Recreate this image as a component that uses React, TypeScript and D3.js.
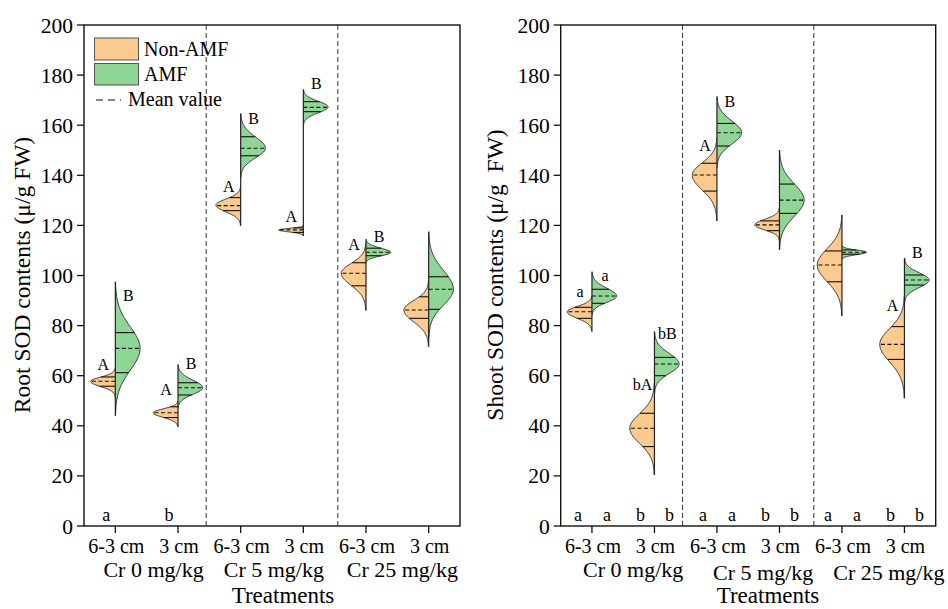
import React from "react";
import * as d3 from "d3";

type Stat = { lo: number; peak: number; hi: number; q1: number; mean: number; q3: number };
const st = (lo: number, peak: number, hi: number, q1: number, mean: number, q3: number): Stat => ({ lo, peak, hi, q1, mean, q3 });

// categories / groups / ticks
const CATEGORIES = ["6-3 cm", "3 cm", "6-3 cm", "3 cm", "6-3 cm", "3 cm"];
const GROUPS = ["Cr 0 mg/kg", "Cr 5 mg/kg", "Cr 25 mg/kg"];
const Y_TICKS = [0, 20, 40, 60, 80, 100, 120, 140, 160, 180, 200];

// Root SOD (μ/g FW): distribution summaries [range low, density peak, range high, q1, mean, q3]
const ROOT_NON_AMF: Stat[] = [
  st(51.5, 57.7, 63, 55.8, 57.8, 59.5),
  st(39.5, 45.2, 50, 43.3, 45.2, 47.6),
  st(119.9, 128.1, 135.5, 125.9, 127.9, 131.1),
  st(115.8, 118.2, 120, 117.2, 118.2, 119),
  st(86, 100.9, 113, 95.9, 100.9, 105.1),
  st(71.6, 86.2, 98, 82.9, 86.2, 91.5),
];
const ROOT_AMF: Stat[] = [
  st(44, 70.9, 97.5, 61.2, 70.9, 77.2),
  st(47, 55.2, 64.5, 52.3, 55.2, 57.2),
  st(139, 150.8, 164.7, 147.8, 150.8, 155.4),
  st(160, 167.3, 174.3, 165.4, 167.1, 169.4),
  st(105, 109.2, 114.5, 107.9, 109.3, 110.9),
  st(75, 94.5, 117.5, 86.5, 94.5, 99.5),
];

// Shoot SOD (μ/g FW)
const SHOOT_NON_AMF: Stat[] = [
  st(77.6, 85.5, 92, 82.9, 85.5, 87.3),
  st(20.4, 39, 57, 31.7, 39, 45),
  st(121.8, 140.1, 155, 133.7, 140.1, 144.8),
  st(114, 120.2, 127, 117.9, 120.2, 121.8),
  st(83.8, 104.2, 124.2, 97.5, 104.2, 109.8),
  st(51, 72.5, 92, 66.5, 72.5, 79.6),
];
const SHOOT_AMF: Stat[] = [
  st(84, 91.8, 101.5, 88.9, 91.8, 94.5),
  st(53, 64.7, 77.6, 60, 64.7, 67.3),
  st(143, 157, 171.5, 151.7, 157, 160.7),
  st(110.2, 130.1, 150.1, 124.8, 130.1, 136.5),
  st(106.3, 109.3, 112, 108.5, 109.3, 110.2),
  st(89, 98.2, 107, 96.2, 98.2, 100.2),
];

// significance letters above violins (text, value at baseline)
const ROOT_NON_LETTERS = ["A", "A", "A", "A", "A", ""];
const ROOT_NON_LETTER_AT = [62.1, 52.1, 133.5, 121.4, 110, 0];
const ROOT_AMF_LETTERS = ["B", "B", "B", "B", "B", ""];
const ROOT_AMF_LETTER_AT = [90, 62.5, 160.3, 174.5, 113.4, 0];
const SHOOT_NON_LETTERS = ["a", "bA", "A", "", "", "A"];
const SHOOT_NON_LETTER_AT = [91.4, 54.1, 149.9, 0, 0, 86];
const SHOOT_AMF_LETTERS = ["a", "bB", "B", "", "", "B"];
const SHOOT_AMF_LETTER_AT = [98, 74.7, 167.2, 0, 0, 106.9];

// letters at the bottom
const ROOT_BASE_LETTERS = ["a", "b", "", "", "", ""];
const SHOOT_BASE_NON = ["a", "b", "a", "b", "a", "b"];
const SHOOT_BASE_AMF = ["a", "b", "a", "b", "a", "b"];

const ORANGE = "#FCC98E";
const GREEN = "#8FD595";
const FONT = "'Liberation Serif', 'Times New Roman', serif";

const Y_TOP = 25;
const Y_BOT = 526;

function density(s: Stat, v: number, W: number) {
  const sd = v >= s.peak ? (s.hi - s.peak) / 3.1 : (s.peak - s.lo) / 3.1;
  const z = (v - s.peak) / Math.max(sd, 0.01);
  return W * Math.exp(-0.5 * z * z);
}

type PanelProps = {
  x0: number;
  x1: number;
  non: Stat[];
  amf: Stat[];
  nonLetters: string[];
  nonLetterAt: number[];
  amfLetters: string[];
  amfLetterAt: number[];
  baseLeft: string[];
  baseRight: string[];
  baseOffsets: [number, number];
  title: string;
  titleX: number;
  groupPos: number[];
  groupY: number[];
  treatX: number;
  legend: boolean;
};

function HalfViolin({ s, cx, y, W, dir, fill }: { s: Stat; cx: number; y: d3.ScaleLinear<number, number>; W: number; dir: number; fill: string }) {
  const vs = d3.range(0, 121).map((i) => s.lo + ((s.hi - s.lo) * i) / 120);
  const pts: [number, number][] = vs.map((v) => [cx + dir * density(s, v, W), y(v)]);
  const curve = d3.line()(pts) || "";
  const area = `M${cx},${y(s.lo)}L` + pts.map((p) => p.join(",")).join("L") + `L${cx},${y(s.hi)}Z`;
  const seg = (v: number) => [cx, cx + dir * density(s, v, W)];
  const [a1, b1] = seg(s.q1);
  const [a3, b3] = seg(s.q3);
  const [am, bm] = seg(s.mean);
  return (
    <g>
      <path d={area} fill={fill} stroke="none" />
      <path d={curve} fill="none" stroke="#222" strokeWidth={0.9} />
      <line x1={a1} x2={b1} y1={y(s.q1)} y2={y(s.q1)} stroke="#111" strokeWidth={1.1} />
      <line x1={a3} x2={b3} y1={y(s.q3)} y2={y(s.q3)} stroke="#111" strokeWidth={1.1} />
      <line x1={am} x2={bm} y1={y(s.mean)} y2={y(s.mean)} stroke="#111" strokeWidth={1.1} strokeDasharray="4,2.5" />
    </g>
  );
}

function Panel(p: PanelProps) {
  const x = d3.scaleLinear().domain([0.5, 6.5]).range([p.x0, p.x1]);
  const y = d3.scaleLinear().domain([0, 200]).range([Y_BOT, Y_TOP]);
  const band = (p.x1 - p.x0) / 6;
  const W = band * 0.395;
  return (
    <g fontFamily={FONT} fill="#000">
      {/* separators */}
      {[2.45, 4.55].map((v) => (
        <line key={v} x1={x(v)} x2={x(v)} y1={Y_TOP} y2={Y_BOT} stroke="#333" strokeWidth={1} strokeDasharray="5,3" />
      ))}
      {/* violins */}
      {CATEGORIES.map((_, i) => {
        const cx = x(i + 1);
        const lo = Math.min(p.non[i].lo, p.amf[i].lo);
        const hi = Math.max(p.non[i].hi, p.amf[i].hi);
        return (
          <g key={i}>
            <HalfViolin s={p.non[i]} cx={cx} y={y} W={W} dir={-1} fill={ORANGE} />
            <HalfViolin s={p.amf[i]} cx={cx} y={y} W={W} dir={1} fill={GREEN} />
            <line x1={cx} x2={cx} y1={y(lo)} y2={y(hi)} stroke="#222" strokeWidth={1.2} />
            {p.nonLetters[i] && (
              <text x={cx - 12} y={y(p.nonLetterAt[i])} fontSize={16} textAnchor="middle">{p.nonLetters[i]}</text>
            )}
            {p.amfLetters[i] && (
              <text x={cx + 13} y={y(p.amfLetterAt[i])} fontSize={16} textAnchor="middle">{p.amfLetters[i]}</text>
            )}
            {p.baseLeft[i] && (
              <text x={cx + p.baseOffsets[0]} y={521} fontSize={18} textAnchor="middle">{p.baseLeft[i]}</text>
            )}
            {p.baseRight[i] && (
              <text x={cx + p.baseOffsets[1]} y={521} fontSize={18} textAnchor="middle">{p.baseRight[i]}</text>
            )}
          </g>
        );
      })}
      {/* frame */}
      <rect x={p.x0} y={Y_TOP} width={p.x1 - p.x0} height={Y_BOT - Y_TOP} fill="none" stroke="#111" strokeWidth={1.4} />
      {/* y ticks */}
      {Y_TICKS.map((t) => (
        <g key={t}>
          <line x1={p.x0 - 7} x2={p.x0} y1={y(t)} y2={y(t)} stroke="#111" strokeWidth={1.3} />
          <text x={p.x0 - 11} y={y(t)} dy="0.35em" fontSize={21.5} textAnchor="end">{t}</text>
        </g>
      ))}
      {/* x ticks */}
      {CATEGORIES.map((c, i) => (
        <g key={i}>
          <line x1={x(i + 1)} x2={x(i + 1)} y1={Y_BOT} y2={Y_BOT + 7} stroke="#111" strokeWidth={1.3} />
          <text x={x(i + 1) + 1} y={553} fontSize={20} textAnchor="middle">{c}</text>
        </g>
      ))}
      {GROUPS.map((g, i) => (
        <text key={g} x={x(p.groupPos[i])} y={p.groupY[i]} fontSize={22} textAnchor="middle">{g}</text>
      ))}
      <text x={p.treatX} y={603} fontSize={23} textAnchor="middle">Treatments</text>
      <text
        transform={`translate(${p.titleX},275) rotate(-90)`}
        fontSize={23.5}
        textAnchor="middle"
        style={{ whiteSpace: "pre" }}
      >
        {p.title}
      </text>
      {p.legend && (
        <g>
          <rect x={94.5} y={38} width={44} height={22} fill={ORANGE} stroke="#555" strokeWidth={1} />
          <rect x={94.5} y={63.5} width={44} height={21.5} fill={GREEN} stroke="#555" strokeWidth={1} />
          <text x={144} y={55.5} fontSize={20}>Non-AMF</text>
          <text x={144} y={80.5} fontSize={20}>AMF</text>
          <line x1={96} x2={121} y1={100} y2={100} stroke="#111" strokeWidth={1.2} strokeDasharray="7,5" />
          <text x={128} y={106} fontSize={20}>Mean value</text>
        </g>
      )}
    </g>
  );
}

export default function App() {
  return (
    <svg
      width={948}
      height={609}
      viewBox="0 0 948 609"
      style={{ position: "absolute", left: 0, top: 0, background: "#fff" }}
    >
      <rect width={948} height={609} fill="#fff" />
      <Panel
        x0={84}
        x1={460}
        non={ROOT_NON_AMF}
        amf={ROOT_AMF}
        nonLetters={ROOT_NON_LETTERS}
        nonLetterAt={ROOT_NON_LETTER_AT}
        amfLetters={ROOT_AMF_LETTERS}
        amfLetterAt={ROOT_AMF_LETTER_AT}
        baseLeft={ROOT_BASE_LETTERS}
        baseRight={["", "", "", "", "", ""]}
        baseOffsets={[-9, 0]}
        title="Root SOD contents (μ/g FW)"
        titleX={30}
        groupPos={[1.61, 3.53, 5.58]}
        groupY={[576.5, 576.5, 576.5]}
        treatX={283}
        legend={true}
      />
      <Panel
        x0={560.7}
        x1={935.7}
        non={SHOOT_NON_AMF}
        amf={SHOOT_AMF}
        nonLetters={SHOOT_NON_LETTERS}
        nonLetterAt={SHOOT_NON_LETTER_AT}
        amfLetters={SHOOT_AMF_LETTERS}
        amfLetterAt={SHOOT_AMF_LETTER_AT}
        baseLeft={SHOOT_BASE_NON}
        baseRight={SHOOT_BASE_AMF}
        baseOffsets={[-14, 15]}
        title="Shoot SOD contents (μ/g  FW)"
        titleX={503}
        groupPos={[1.66, 3.74, 5.75]}
        groupY={[577, 580, 580]}
        treatX={768}
        legend={false}
      />
    </svg>
  );
}
